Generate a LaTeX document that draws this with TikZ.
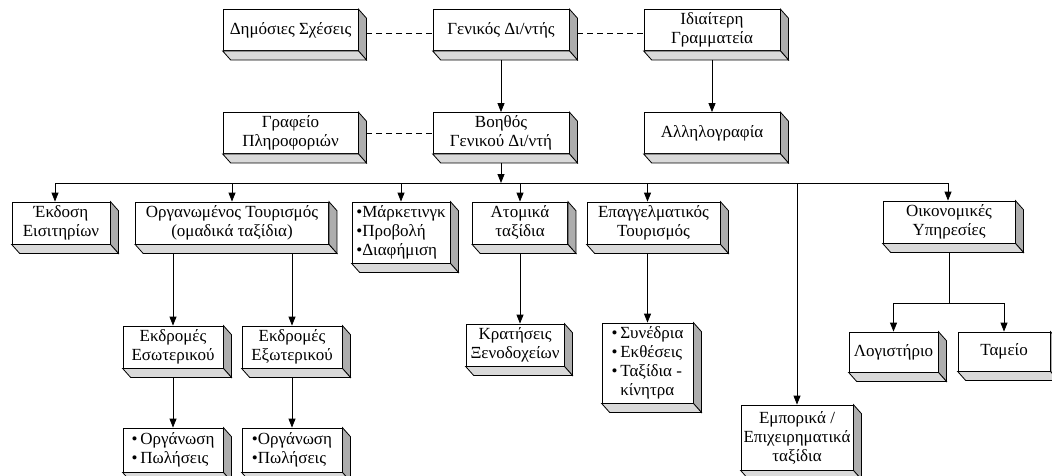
\documentclass[tikz,border=0pt]{standalone}
\usepackage{fontspec}
\setmainfont{Liberation Serif}
\usepackage{tikz}
\usetikzlibrary{arrows.meta}
\tikzset{
	boxstyle/.style={rectangle,draw=black,fill=white,align=center,inner sep=0pt},
	liststyle/.style={boxstyle,align=left},
	sidestyle/.style={draw=black,fill=white!68!black},
	floorstyle/.style={draw=black,fill=white!85!black},
	linkstyle/.style={-{Triangle[length=9pt,width=7pt]}},
	dashstyle/.style={dash pattern=on 6pt off 4pt}
}

\begin{document}
\begin{tikzpicture}[x=1pt,y=-1pt,line width=0.8pt]
		\fontsize{17}{19}\selectfont
		\useasboundingbox (0,0) rectangle (1052,475);
		% top rows
		\node[boxstyle,minimum width=135,minimum height=41] (dim) at (290.5,30) {Δημόσιες Σχέσεις};
		\node[boxstyle,minimum width=136,minimum height=41] (gen) at (501,30) {Γενικός Δι/ντής};
		\node[boxstyle,minimum width=136,minimum height=41] (idi) at (712,30) {Ιδιαίτερη\\Γραμματεία};
		\node[boxstyle,minimum width=135,minimum height=41] (graf) at (290.5,133) {Γραφείο\\Πληροφοριών};
		\node[boxstyle,minimum width=136,minimum height=41] (boi) at (501,133) {Βοηθός\\Γενικού Δι/ντή};
		\node[boxstyle,minimum width=136,minimum height=41] (all) at (712,133) {Αλληλογραφία};
		% departments
		\node[boxstyle,minimum width=98,minimum height=42] (ekd) at (61,223) {Έκδοση\\Εισιτηρίων};
		\node[boxstyle,minimum width=193,minimum height=42] (org) at (232,223) {Οργανωμένος Τουρισμός\\(ομαδικά ταξίδια)};
		\node[liststyle,minimum width=98,minimum height=61] (mar) at (401,232.5) {•Μάρκετινγκ\\•Προβολή\\•Διαφήμιση};
		\node[boxstyle,minimum width=95,minimum height=42] (ato) at (520,223) {Ατομικά\\ταξίδια};
		\node[boxstyle,minimum width=133,minimum height=42] (epa) at (653.5,223) {Επαγγελματικός\\Τουρισμός};
		\node[boxstyle,minimum width=132,minimum height=42] (oik) at (949,222) {Οικονομικές\\Υπηρεσίες};
		% lower levels
		\node[boxstyle,minimum width=100,minimum height=42] (eso) at (173,347) {Εκδρομές\\Εσωτερικού};
		\node[boxstyle,minimum width=100,minimum height=42] (exo) at (292,347) {Εκδρομές\\Εξωτερικού};
		\node[boxstyle,minimum width=98,minimum height=42] (kra) at (515,345) {Κρατήσεις\\Ξενοδοχείων};
		\node[liststyle,minimum width=91,minimum height=80] (syn) at (647.5,363) {•\,Συνέδρια\\•\,Εκθέσεις\\•\,Ταξίδια -\\\phantom{•\,}κίνητρα};
		\node[boxstyle,minimum width=89,minimum height=40] (log) at (893.5,352) {Λογιστήριο};
		\node[boxstyle,minimum width=92,minimum height=39] (tam) at (1004,351.5) {Ταμείο};
		\node[boxstyle,minimum width=112,minimum height=65] (emp) at (797,437.5) {Εμπορικά /\\Επιχειρηματικά\\ταξίδια};
		\node[liststyle,minimum width=100,minimum height=44] (orga) at (173,450) {•\,Οργάνωση\\•\,Πωλήσεις};
		\node[liststyle,minimum width=100,minimum height=44] (orgb) at (292,450) {•Οργάνωση\\•Πωλήσεις};
		% box depth
		\foreach \n in {dim,gen,idi,graf,boi,all,ekd,org,mar,ato,epa,oik,eso,exo,kra,syn,log,tam,emp,orga,orgb}{
			\draw[sidestyle] (\n.north east) -- ++(8,9) -- ([shift={(8,9)}]\n.south east) -- (\n.south east) -- cycle;
			\draw[floorstyle] (\n.south west) -- ++(8,9) -- ([shift={(8,9)}]\n.south east) -- (\n.south east) -- cycle;
		}
		\coordinate (bl) at (55,183);
		\coordinate (br) at (948,183);
		\coordinate (fork) at (948,303);
		\draw[dashstyle] ([shift={(8,3)}]dim.east) -- ([shift={(0,3)}]gen.west);
		\draw[dashstyle] ([shift={(8,3)}]gen.east) -- ([shift={(0,3)}]idi.west);
		\draw[dashstyle] ([shift={(8,0)}]graf.east) -- (boi.west);
		\draw[linkstyle] (gen.south) ++(0,9) -- (boi.north);
		\draw[linkstyle] (idi.south) ++(0,9) -- (all.north);
		\draw[linkstyle] (boi.south) ++(0,9) -- (boi.south |- bl);
		\draw (bl) -- (br);
		\draw[linkstyle] (bl) -- (bl |- ekd.north);
		\draw[linkstyle] (org.north |- bl) -- (org.north);
		\draw[linkstyle] (mar.north |- bl) -- (mar.north);
		\draw[linkstyle] (ato.north |- bl) -- (ato.north);
		\draw[linkstyle] (syn.north |- bl) -- (syn.north |- epa.north);
		\draw[linkstyle] (br) -- (br |- oik.north);
		\draw[linkstyle] (emp.north |- bl) -- (emp.north);
		\draw[linkstyle] (eso.north |- org.south) ++(0,9) -- (eso.north);
		\draw[linkstyle] (exo.north |- org.south) ++(0,9) -- (exo.north);
		\draw[linkstyle] (eso.south) ++(0,9) -- (orga.north);
		\draw[linkstyle] (exo.south) ++(0,9) -- (orgb.north);
		\draw[linkstyle] (ato.south) ++(0,9) -- (ato.south |- kra.north);
		\draw[linkstyle] (syn.north |- epa.south) ++(0,9) -- (syn.north);
		\draw (oik.south) ++(0,9) -- (oik.south |- fork);
		\draw (log.north |- fork) -- (tam.north |- fork);
		\draw[linkstyle] (log.north |- fork) -- (log.north);
		\draw[linkstyle] (tam.north |- fork) -- (tam.north);
		\end{tikzpicture}
\end{document}
